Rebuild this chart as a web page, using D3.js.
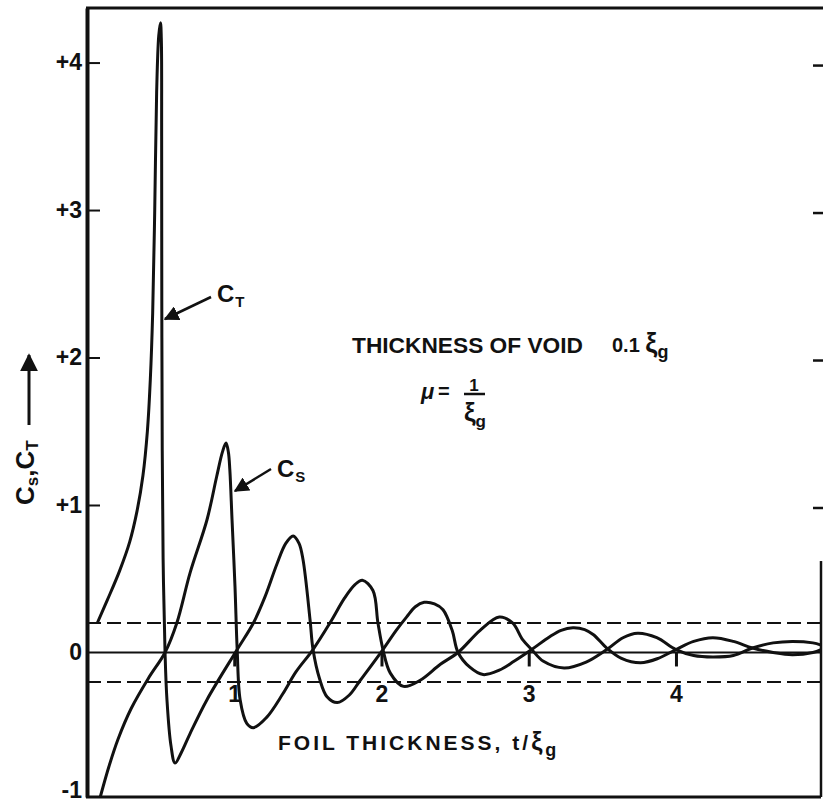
<!DOCTYPE html>
<html>
<head>
<meta charset="utf-8">
<script src="https://cdn.jsdelivr.net/npm/d3@7"></script>
<style>
  body { margin: 0; background: #fff; }
  svg { display: block; }
  text { font-family: "Liberation Sans", Arial, sans-serif; font-weight: bold; fill: #111; }
</style>
</head>
<body>
<svg id="chart" width="823" height="802"></svg>
<script>
// C_T curve (t / xi_g , value)
var ctT = [0.07, 0.14, 0.22, 0.29, 0.34, 0.38, 0.41, 0.43, 0.446, 0.46, 0.473, 0.487, 0.499, 0.505, 0.507, 0.508, 0.511, 0.517, 0.53, 0.543, 0.57, 0.598, 0.64, 0.70, 0.815, 1.02, 1.13, 1.21, 1.29, 1.35, 1.40, 1.44, 1.467, 1.515, 1.535, 1.58, 1.63, 1.70, 1.78, 1.855, 2.01, 2.10, 2.17, 2.23, 2.29, 2.36, 2.418, 2.48, 2.52, 2.60, 2.69, 2.80, 2.90, 3.02, 3.14, 3.22, 3.30, 3.38, 3.44, 3.53, 3.63, 3.76, 3.88, 4.0, 4.12, 4.25, 4.39, 4.52, 4.66, 4.79, 4.93, 4.985];
var ctV = [0.20, 0.36, 0.55, 0.75, 0.96, 1.20, 1.50, 1.85, 2.30, 3.0, 3.8, 4.18, 4.27, 4.15, 3.5, 2.4, 1.37, 0.63, 0.0, -0.32, -0.63, -0.75, -0.68, -0.55, -0.32, 0.02, 0.2, 0.38, 0.6, 0.74, 0.79, 0.74, 0.63, 0.22, 0.02, -0.18, -0.30, -0.34, -0.29, -0.19, 0.02, 0.15, 0.24, 0.31, 0.34, 0.33, 0.29, 0.15, 0.0, -0.10, -0.15, -0.12, -0.06, 0.02, 0.105, 0.15, 0.167, 0.155, 0.12, 0.03, -0.04, -0.07, -0.04, 0.02, 0.075, 0.10, 0.075, 0.03, 0.0, -0.015, 0.0, 0.02];

// C_S curve
var csT = [0.09, 0.15, 0.21, 0.30, 0.42, 0.53, 0.61, 0.70, 0.815, 0.88, 0.92, 0.944, 0.96, 0.97, 0.985, 1.005, 1.02, 1.04, 1.085, 1.13, 1.22, 1.33, 1.42, 1.535, 1.65, 1.75, 1.82, 1.87, 1.942, 1.976, 2.01, 2.06, 2.15, 2.26, 2.40, 2.52, 2.67, 2.80, 2.89, 2.96, 3.02, 3.10, 3.24, 3.39, 3.53, 3.64, 3.74, 3.87, 4.0, 4.12, 4.25, 4.39, 4.52, 4.66, 4.79, 4.93, 4.985];
var csV = [-0.98, -0.77, -0.59, -0.38, -0.17, 0.0, 0.20, 0.54, 0.90, 1.19, 1.36, 1.42, 1.36, 1.24, 0.90, 0.45, 0.02, -0.32, -0.48, -0.51, -0.44, -0.28, -0.13, 0.02, 0.20, 0.37, 0.46, 0.49, 0.42, 0.20, 0.02, -0.14, -0.23, -0.19, -0.08, 0.0, 0.15, 0.24, 0.20, 0.085, 0.02, -0.06, -0.105, -0.065, 0.02, 0.10, 0.13, 0.10, 0.02, -0.02, -0.03, -0.02, 0.03, 0.065, 0.075, 0.065, 0.05];

var yTicks = [-1, 0, 1, 2, 3, 4];
var yTickLabels = ["-1", "0", "+1", "+2", "+3", "+4"];
var xTicks = [1, 2, 3, 4];
var bandLevels = [0.2, -0.2];

var svg = d3.select("#chart");
var x = d3.scaleLinear().domain([0, 4.985]).range([87, 821]);
var y = d3.scaleLinear().domain([-0.98, 4.37]).range([797, 8]);

/*
** frame
 */
svg.append("line").attr("x1", 86).attr("x2", 823).attr("y1", y(4.37)).attr("y2", y(4.37))
    .attr("stroke", "#111").attr("stroke-width", 3);
svg.append("line").attr("x1", 86).attr("x2", 821).attr("y1", y(-0.98)).attr("y2", y(-0.98))
    .attr("stroke", "#111").attr("stroke-width", 3);
svg.append("line").attr("x1", 821).attr("x2", 821).attr("y1", y(0.62)).attr("y2", y(-0.98))
    .attr("stroke", "#111").attr("stroke-width", 2.5);

// left axis, ticks point inward
var yAxis = d3.axisLeft(y).tickValues(yTicks).tickSize(-13).tickSizeOuter(0).tickPadding(5)
    .tickFormat(function (d, i) { return yTickLabels[i]; });
var gy = svg.append("g").attr("transform", "translate(" + x(0) + ",0)").call(yAxis);
gy.select(".domain").attr("stroke", "#111").attr("stroke-width", 4);
gy.selectAll(".tick line").attr("stroke", "#111").attr("stroke-width", 2);
gy.selectAll(".tick text").style("font-size", "23px").attr("fill", "#111");
gy.selectAll(".tick").filter(function (d) { return d == 0 || d == -1; }).select("line").remove();
// the -1 label sits right on the bottom edge; lift it so it stays whole
gy.selectAll(".tick").filter(function (d) { return d == -1; }).select("text").attr("dy", "-0.1em");

// right side tick marks
svg.selectAll(".rtick").data(yTicks.filter(function (d) { return d > 0; }))
    .enter().append("line").attr("class", "rtick")
    .attr("x1", 813).attr("x2", 823)
    .attr("y1", function (d) { return y(d) + 3; }).attr("y2", function (d) { return y(d) + 3; })
    .attr("stroke", "#111").attr("stroke-width", 2.5);

/*
** reference lines
 */
svg.append("line").attr("x1", x(0)).attr("x2", 821).attr("y1", y(0)).attr("y2", y(0))
    .attr("stroke", "#111").attr("stroke-width", 2);
svg.selectAll(".band").data(bandLevels).enter().append("line").attr("class", "band")
    .attr("x1", x(0)).attr("x2", 821)
    .attr("y1", function (d) { return y(d); }).attr("y2", function (d) { return y(d); })
    .attr("stroke", "#111").attr("stroke-width", 2).attr("stroke-dasharray", "14,6");

// bottom axis sits on the zero line
var xAxis = d3.axisBottom(x).tickValues(xTicks).tickSize(14).tickPadding(19).tickFormat(d3.format("d"));
var gx = svg.append("g").attr("transform", "translate(0," + y(0) + ")").call(xAxis);
gx.select(".domain").remove();
gx.selectAll(".tick line").attr("stroke", "#111").attr("stroke-width", 3);
gx.selectAll(".tick text").style("font-size", "23px").attr("fill", "#111");

/*
** curves
 */
var line = d3.line()
    .x(function (d) { return x(d[0]); })
    .y(function (d) { return y(d[1]); })
    .curve(d3.curveCatmullRom.alpha(0.5));

var ctData = ctT.map(function (t, i) { return [t, ctV[i]]; });
var csData = csT.map(function (t, i) { return [t, csV[i]]; });

svg.append("path").datum(ctData).attr("d", line)
    .attr("fill", "none").attr("stroke", "#111").attr("stroke-width", 3).attr("stroke-linejoin", "round");
svg.append("path").datum(csData).attr("d", line)
    .attr("fill", "none").attr("stroke", "#111").attr("stroke-width", 3).attr("stroke-linejoin", "round");

/*
** labels
 */
svg.append("defs").append("marker")
    .attr("id", "head").attr("viewBox", "0 0 10 10").attr("refX", 9).attr("refY", 5)
    .attr("markerWidth", 6).attr("markerHeight", 6).attr("orient", "auto")
    .append("path").attr("d", "M0,0 L10,5 L0,10 z").attr("fill", "#111");

function curveLabel(sub, tx, ty, ax1, ay1, ax2, ay2) {
    svg.append("line").attr("x1", ax1).attr("y1", ay1).attr("x2", ax2).attr("y2", ay2)
        .attr("stroke", "#111").attr("stroke-width", 2.5).attr("marker-end", "url(#head)");
    var t = svg.append("text").attr("x", tx).attr("y", ty).style("font-size", "24px");
    t.append("tspan").text("C");
    t.append("tspan").attr("dx", 1).attr("dy", 5).style("font-size", "15px").text(sub);
}
curveLabel("T", 217, 302, 211, 297, 165, 319);
curveLabel("S", 277, 477, 271, 469, 235, 491);

// annotation
svg.append("text").attr("x", 352).attr("y", 353).style("font-size", "22px")
    .attr("textLength", 231).attr("lengthAdjust", "spacingAndGlyphs").text("THICKNESS OF VOID");
var ann = svg.append("text").attr("x", 612).attr("y", 352).style("font-size", "20px");
ann.append("tspan").text("0.1 ");
ann.append("tspan").style("font-size", "27px").text("ξ");
ann.append("tspan").attr("dy", 6).style("font-size", "18px").text("g");

svg.append("text").attr("x", 421).attr("y", 399).style("font-size", "22px").style("font-style", "italic").text("μ");
svg.append("text").attr("x", 438).attr("y", 398).style("font-size", "20px").text("=");
svg.append("text").attr("x", 474).attr("y", 391).attr("text-anchor", "middle").style("font-size", "17px").text("1");
svg.append("line").attr("x1", 464).attr("x2", 485).attr("y1", 394).attr("y2", 394)
    .attr("stroke", "#111").attr("stroke-width", 2.5);
var den = svg.append("text").attr("x", 464).attr("y", 421).style("font-size", "26px");
den.append("tspan").text("ξ");
den.append("tspan").attr("dy", 6).style("font-size", "17px").text("g");

// x title
var xt = svg.append("text").attr("x", 278).attr("y", 750).style("font-size", "21px").style("letter-spacing", "3px");
xt.append("tspan").text("FOIL THICKNESS,  t/");
xt.append("tspan").style("font-size", "25px").text("ξ");
xt.append("tspan").attr("dy", 6).style("font-size", "18px").text("g");

// y title with arrow
var gyl = svg.append("g").attr("transform", "translate(34,505) rotate(-90)");
var yt = gyl.append("text").attr("x", 0).attr("y", 0).style("font-size", "26px");
yt.append("tspan").text("C");
yt.append("tspan").attr("dy", 4).style("font-size", "17px").text("s");
yt.append("tspan").attr("dy", -4).text(",C");
yt.append("tspan").attr("dy", 4).style("font-size", "17px").text("T");
gyl.append("line").attr("x1", 80).attr("x2", 150).attr("y1", -5).attr("y2", -5)
    .attr("stroke", "#111").attr("stroke-width", 3).attr("marker-end", "url(#head)");
</script>
</body>
</html>
